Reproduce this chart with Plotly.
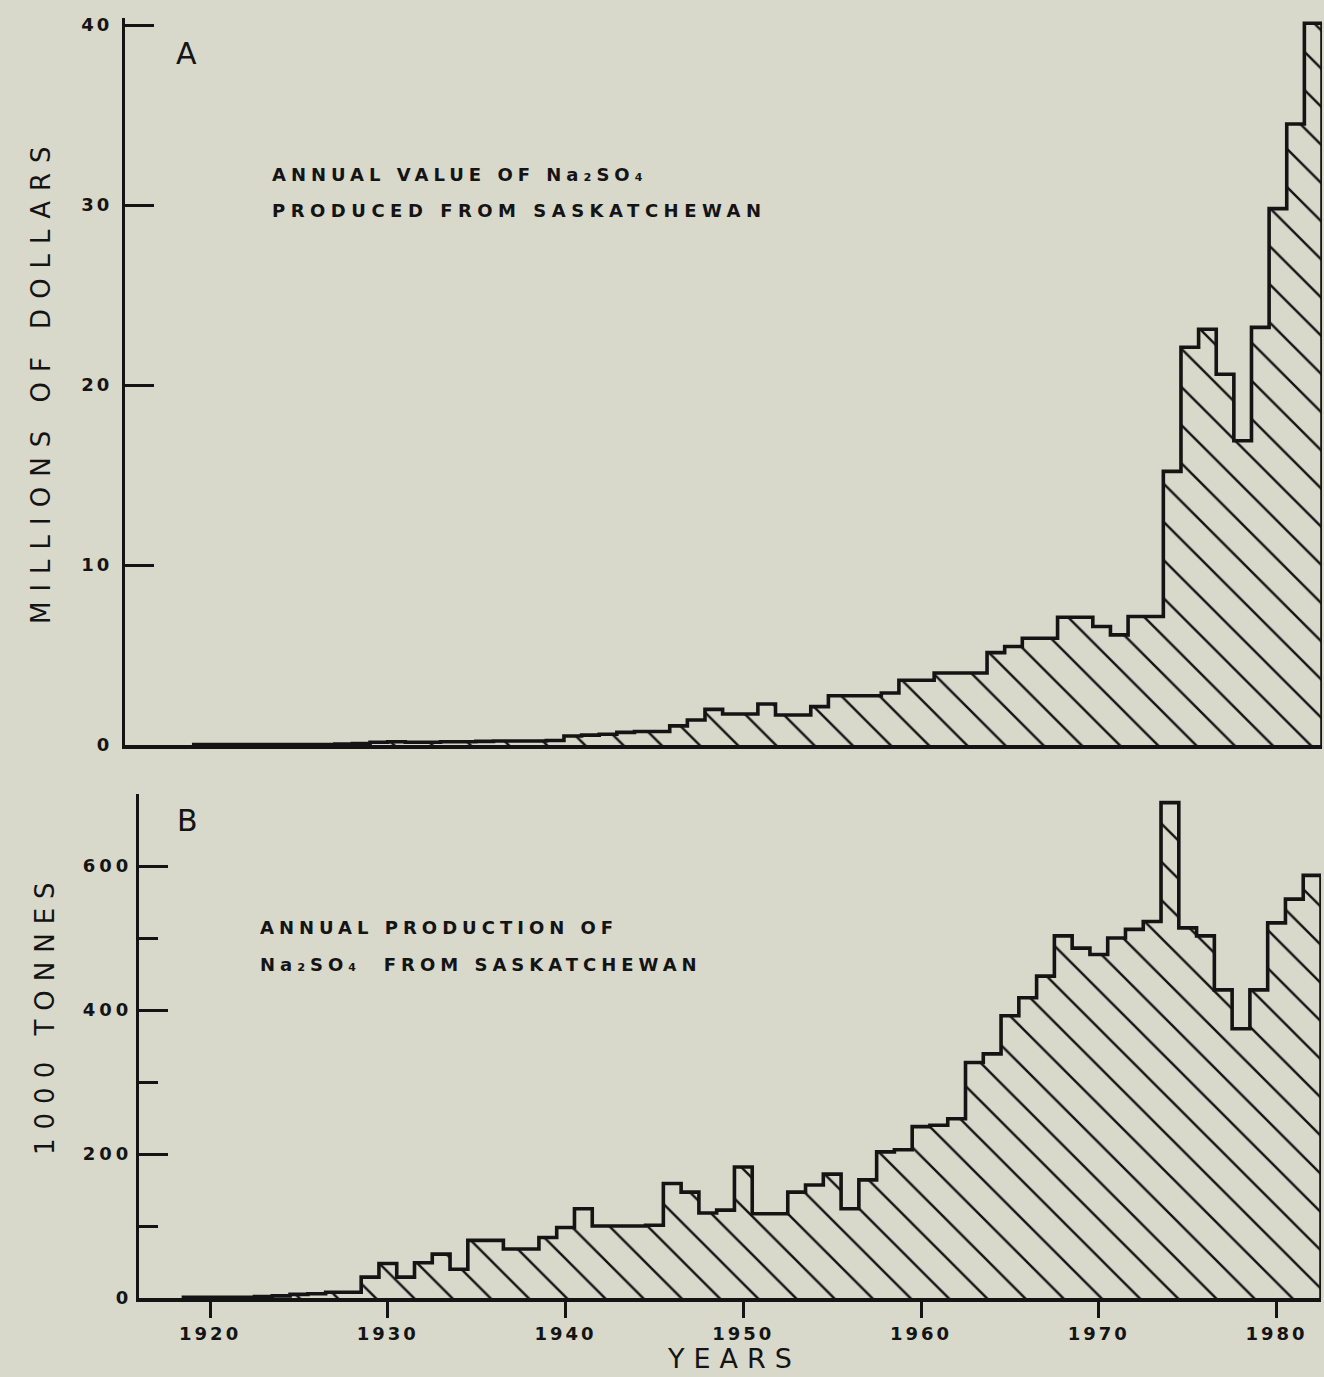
import plotly.graph_objects as go

W, H = 1324, 1377
BG = '#d8d8cb'
INK = '#141414'
FONT = 'DejaVu Sans'

years = list(range(1919, 1983))

value_musd = [
    0.03, 0.03, 0.03, 0.03, 0.03, 0.03, 0.03, 0.03, 0.05, 0.08,
    0.15, 0.18, 0.15, 0.15, 0.18, 0.18, 0.2, 0.22, 0.22, 0.22, 0.25,
    0.5, 0.55, 0.6, 0.7, 0.75, 0.75, 1.06, 1.39, 1.98, 1.72,
    1.72, 2.28, 1.67, 1.67, 2.13, 2.74, 2.74, 2.74, 2.89, 3.6,
    3.6, 4.0, 4.0, 4.0, 5.13, 5.47, 5.93, 5.93, 7.1, 7.1,
    6.58, 6.12, 7.14, 7.14, 15.2, 22.1, 23.1, 20.6, 16.9, 23.2,
    29.8, 34.5, 40.1,
]

production_kt = [
    1, 1, 1, 1, 2, 3, 5, 6, 8, 8,
    29, 48, 29, 49, 61, 40, 80, 80, 68, 68,
    84, 98, 124, 100, 100, 100, 101, 159, 147, 118,
    122, 182, 117, 117, 147, 157, 172, 124, 164, 203,
    206, 238, 240, 249, 327, 339, 392, 417, 447, 503,
    486, 477, 500, 512, 523, 688, 514, 503, 428, 374,
    428, 521, 554, 587,
]

x_ticks = [1920, 1930, 1940, 1950, 1960, 1970, 1980]
top_ticks = [0, 10, 20, 30, 40]
bottom_ticks = [0, 200, 400, 600]
bottom_minor = [100, 300, 500, 700]


def step_xy(yrs, vals):
    edges = [y - 0.5 for y in yrs] + [yrs[-1] + 0.5]
    xs = [edges[0]] + edges[:-1] + [edges[-1], edges[-1]]
    ys = [0] + list(vals) + [vals[-1], 0]
    return xs, ys


def spaced(t, px, size):
    return f'<span style="letter-spacing:{px}px;font-size:{size}px">{t}</span>'


def px_x(p):
    return p / W


def px_y(p):
    return 1 - p / H


hatch = dict(shape='\\', size=27, solidity=0.09, fgcolor=INK, bgcolor=BG, fillmode='replace')

fig = go.Figure()

xt, yt = step_xy(years, value_musd)
fig.add_trace(go.Scatter(x=xt, y=yt, mode='lines', line=dict(shape='hv', color=INK, width=3.6),
                         fill='tozeroy', fillcolor=BG, fillpattern=hatch,
                         xaxis='x2', yaxis='y2', showlegend=False, hoverinfo='skip'))

xb, yb = step_xy(years, production_kt)
fig.add_trace(go.Scatter(x=xb, y=yb, mode='lines', line=dict(shape='hv', color=INK, width=3.6),
                         fill='tozeroy', fillcolor=BG, fillpattern=hatch,
                         xaxis='x', yaxis='y', showlegend=False, hoverinfo='skip'))

tickfont = dict(family=FONT, size=18, color=INK, weight='bold')

fig.update_layout(
    width=W, height=H,
    margin=dict(l=0, r=0, t=0, b=0),
    paper_bgcolor=BG, plot_bgcolor=BG,
    showlegend=False,
    xaxis=dict(domain=[px_x(139), px_x(1321)], range=[1916.0, 1982.5], anchor='y',
               showline=True, linecolor=INK, linewidth=3.5, showgrid=False, zeroline=False,
               tickmode='array', tickvals=x_ticks, ticktext=[spaced(str(v), 3, 18) for v in x_ticks],
               ticks='outside', ticklen=16, tickwidth=3, tickcolor=INK, tickfont=tickfont,
               ticklabelstandoff=1, automargin=False),
    yaxis=dict(domain=[px_y(1298), px_y(794)], range=[0, 700], anchor='x',
               showline=True, linecolor=INK, linewidth=3, showgrid=False, zeroline=False,
               tickmode='array', tickvals=bottom_ticks, ticktext=[spaced(str(v), 4, 18) for v in bottom_ticks],
               ticks='inside', ticklen=29, tickwidth=3, tickcolor=INK, tickfont=tickfont,
               minor=dict(tickvals=bottom_minor, ticks='inside', ticklen=19, tickwidth=3, tickcolor=INK, showgrid=False),
               automargin=False),
    xaxis2=dict(domain=[px_x(125), px_x(1322)], range=[1914.6, 1982.5], anchor='y2',
                showline=True, linecolor=INK, linewidth=3.5, showgrid=False, zeroline=False,
                showticklabels=False, ticks='', automargin=False),
    yaxis2=dict(domain=[px_y(745), px_y(745 - 40.4 * 18)], range=[0, 40.4], anchor='x2',
                showline=True, linecolor=INK, linewidth=3, showgrid=False, zeroline=False,
                tickmode='array', tickvals=top_ticks, ticktext=[spaced(str(v), 3, 18) for v in top_ticks],
                ticks='inside', ticklen=29, tickwidth=3, tickcolor=INK, tickfont=tickfont,
                ticklabelstandoff=6, automargin=False),
)

ann_common = dict(xref='paper', yref='paper', showarrow=False)
label_font = dict(family=FONT, size=18, color=INK, weight='bold')

annotations = [
    dict(text='A', x=px_x(186), y=px_y(54), xanchor='center', yanchor='middle',
         font=dict(family=FONT, size=30, color=INK)),
    dict(text='B', x=px_x(187), y=px_y(820), xanchor='center', yanchor='middle',
         font=dict(family=FONT, size=30, color=INK)),
    dict(text=spaced('ANNUAL VALUE OF Na₂SO₄', 5, 18),
         x=px_x(270), y=px_y(174), xanchor='left', yanchor='middle', font=label_font),
    dict(text=spaced('PRODUCED FROM SASKATCHEWAN', 5.5, 18),
         x=px_x(270), y=px_y(210), xanchor='left', yanchor='middle', font=label_font),
    dict(text=spaced('ANNUAL PRODUCTION OF', 5, 18),
         x=px_x(258), y=px_y(927), xanchor='left', yanchor='middle', font=label_font),
    dict(text=spaced('Na₂SO₄  FROM SASKATCHEWAN', 5, 18),
         x=px_x(258), y=px_y(964), xanchor='left', yanchor='middle', font=label_font),
    dict(text=spaced('YEARS', 9, 27), x=px_x(734), y=px_y(1376), xanchor='center', yanchor='bottom',
         font=dict(family=FONT, size=27, color=INK)),
    dict(text=spaced('MILLIONS OF DOLLARS', 10, 26), x=px_x(41), y=px_y(380), xanchor='center', yanchor='middle',
         textangle=-90, font=dict(family=FONT, size=26, color=INK)),
    dict(text=spaced('1000 TONNES', 9, 26), x=px_x(45), y=px_y(1014), xanchor='center', yanchor='middle',
         textangle=-90, font=dict(family=FONT, size=26, color=INK)),
]
fig.update_layout(annotations=[dict(**ann_common, **a) for a in annotations])

fig.write_html('out.html', config={'displayModeBar': False},
               post_script="document.body.style.margin='0px';")
